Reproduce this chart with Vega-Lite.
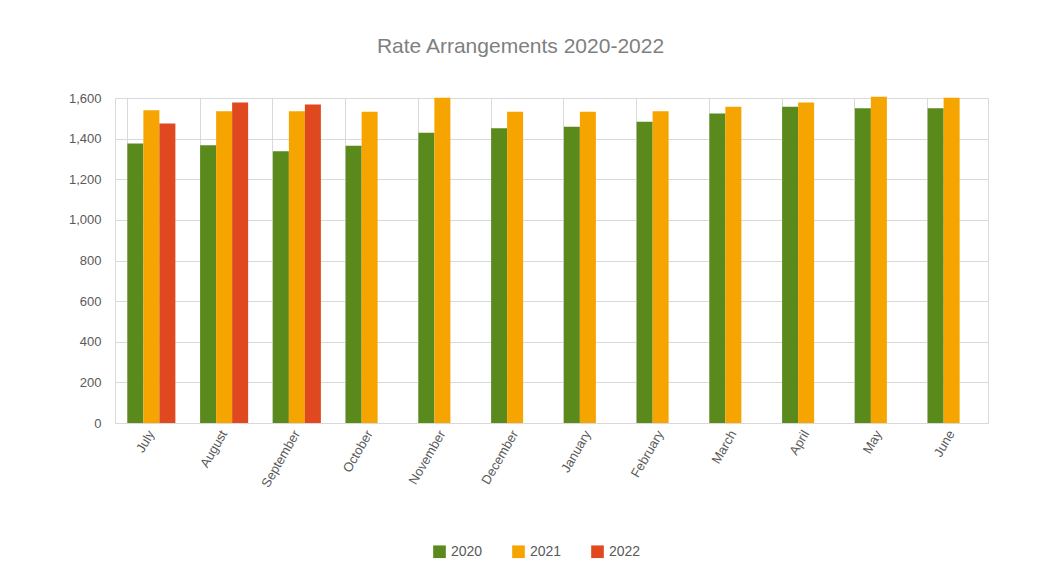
{
  "$schema": "https://vega.github.io/schema/vega-lite/v6.json",
  "width": 873,
  "height": 325,
  "autosize": "none",
  "padding": {"left": 115, "top": 98, "right": 50, "bottom": 164},
  "background": "white",
  "title": {
    "text": "Rate Arrangements 2020-2022",
    "fontSize": 21,
    "font": "Liberation Sans",
    "fontWeight": "normal",
    "color": "#7f7f7f",
    "anchor": "middle",
    "dx": -31,
    "offset": 35
  },
  "config": {
    "view": {"stroke": "#d9d9d9"},
    "font": "Liberation Sans"
  },
  "data": {
    "values": [
      {"month": "July", "year": "2020", "value": 1376},
      {"month": "July", "year": "2021", "value": 1540},
      {"month": "July", "year": "2022", "value": 1474},
      {"month": "August", "year": "2020", "value": 1368},
      {"month": "August", "year": "2021", "value": 1535},
      {"month": "August", "year": "2022", "value": 1578},
      {"month": "September", "year": "2020", "value": 1338},
      {"month": "September", "year": "2021", "value": 1535},
      {"month": "September", "year": "2022", "value": 1568},
      {"month": "October", "year": "2020", "value": 1365},
      {"month": "October", "year": "2021", "value": 1532},
      {"month": "November", "year": "2020", "value": 1429},
      {"month": "November", "year": "2021", "value": 1601},
      {"month": "December", "year": "2020", "value": 1451},
      {"month": "December", "year": "2021", "value": 1532},
      {"month": "January", "year": "2020", "value": 1459},
      {"month": "January", "year": "2021", "value": 1532},
      {"month": "February", "year": "2020", "value": 1483},
      {"month": "February", "year": "2021", "value": 1535},
      {"month": "March", "year": "2020", "value": 1524},
      {"month": "March", "year": "2021", "value": 1557},
      {"month": "April", "year": "2020", "value": 1557},
      {"month": "April", "year": "2021", "value": 1578},
      {"month": "May", "year": "2020", "value": 1549},
      {"month": "May", "year": "2021", "value": 1606},
      {"month": "June", "year": "2020", "value": 1549},
      {"month": "June", "year": "2021", "value": 1601}
    ]
  },
  "mark": {"type": "bar", "stroke": null},
  "encoding": {
    "x": {
      "field": "month",
      "type": "nominal",
      "sort": ["July", "August", "September", "October", "November", "December", "January", "February", "March", "April", "May", "June"],
      "scale": {"paddingInner": 0.34, "paddingOuter": 0.17},
      "axis": {
        "title": null,
        "labelAngle": -60,
        "labelFontSize": 13,
        "labelColor": "#595959",
        "labelPadding": 8,
        "ticks": false,
        "domainColor": "#d9d9d9",
        "grid": true,
        "bandPosition": 0,
        "gridColor": "#d9d9d9"
      }
    },
    "xOffset": {"field": "year", "type": "nominal", "scale": {"paddingInner": 0}},
    "y": {
      "field": "value",
      "type": "quantitative",
      "scale": {"domain": [0, 1600]},
      "axis": {
        "title": null,
        "values": [0, 200, 400, 600, 800, 1000, 1200, 1400, 1600],
        "format": ",d",
        "labelFontSize": 13,
        "labelColor": "#595959",
        "labelPadding": 14,
        "ticks": false,
        "domain": false,
        "gridColor": "#d9d9d9"
      }
    },
    "color": {
      "field": "year",
      "type": "nominal",
      "scale": {"domain": ["2020", "2021", "2022"], "range": ["#5b8a1c", "#f5a400", "#e0491f"]},
      "legend": {
        "title": null,
        "orient": "none",
        "direction": "horizontal",
        "legendX": 317,
        "legendY": 446,
        "symbolType": "square",
        "symbolSize": 160,
        "labelFontSize": 14,
        "labelColor": "#595959",
        "columnPadding": 28
      }
    }
  }
}
